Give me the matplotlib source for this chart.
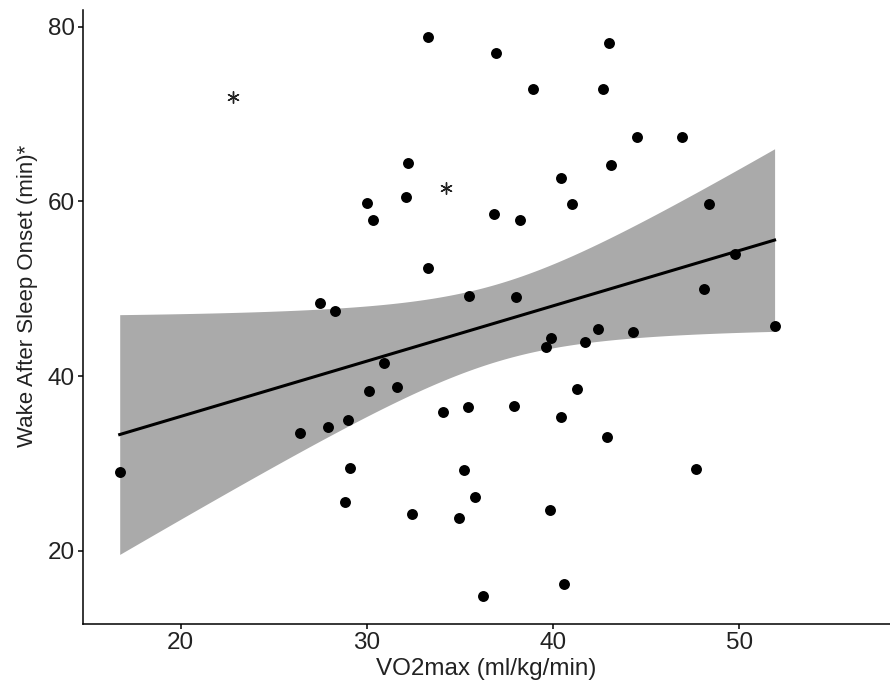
import numpy as np
import matplotlib
matplotlib.use("Agg")
import matplotlib.pyplot as plt

plt.rcParams['font.family'] = ['Liberation Sans', 'DejaVu Sans']

vo2max = [33.30, 32.20, 30.01, 32.11, 30.32, 33.30, 27.50, 28.31, 36.93, 43.01,
          38.91, 42.69, 44.52, 46.92, 43.11, 40.42, 41.01, 36.82, 38.22, 48.40,
          49.80, 48.10, 35.51, 38.02, 51.90, 42.42, 44.30, 39.90, 41.71, 39.61,
          30.91, 30.10, 31.61, 34.09, 26.41, 27.92, 29.01, 29.10, 16.72, 28.81,
          32.43, 41.30, 35.42, 37.91, 40.42, 42.92, 47.69, 35.21, 35.80, 34.92,
          39.81, 40.60, 36.21]
waso = [78.86, 64.44, 59.86, 60.55, 57.88, 52.43, 48.35, 47.51, 77.03, 78.17,
        72.87, 72.87, 67.38, 67.38, 64.18, 62.65, 59.71, 58.53, 57.88, 59.71,
        54.03, 50.02, 49.22, 49.07, 45.72, 45.37, 45.03, 44.35, 43.92, 43.39,
        41.52, 38.35, 38.74, 35.88, 33.52, 34.16, 35.00, 29.51, 29.02, 25.58,
        24.28, 38.51, 36.52, 36.60, 35.31, 33.02, 29.36, 29.24, 26.22, 23.82,
        24.67, 16.27, 14.86]
star_x = [22.78, 34.26]
star_y = [72.0, 61.5]

x = np.array(vo2max)
y = np.array(waso)
n = len(x)
b1, b0 = np.polyfit(x, y, 1)
resid = y - (b0 + b1 * x)
s = np.sqrt(np.sum(resid ** 2) / (n - 2))
tcrit = 2.0076  # t(0.975, df=51)
xg = np.linspace(x.min(), x.max(), 200)
yg = b0 + b1 * xg
se = s * np.sqrt(1.0 / n + (xg - x.mean()) ** 2 / np.sum((x - x.mean()) ** 2))

fig = plt.figure(figsize=(8.9, 6.94), dpi=100)
ax = fig.add_axes([0.0933, 0.1009, 0.9067, 0.8847])

ax.fill_between(xg, yg - tcrit * se, yg + tcrit * se, color='#aaaaaa', lw=0, zorder=1)
ax.plot(xg, yg, color='black', lw=2.2, zorder=2)
ax.scatter(x, y, s=62, color='black', zorder=3, linewidths=0)
ax.scatter(star_x, star_y, marker=(6, 2, 0), s=70, color='#222222', linewidths=1.0, zorder=3)

ax.set_xlim(14.75, 58.1)
ax.set_ylim(11.65, 81.9)
ax.set_xticks([20, 30, 40, 50])
ax.set_yticks([20, 40, 60, 80])
for side in ['top', 'right']:
    ax.spines[side].set_visible(False)
for side in ['left', 'bottom']:
    ax.spines[side].set_linewidth(1.1)
ax.tick_params(direction='out', length=3.6, width=1.1, labelsize=17.5, colors='black',
               labelcolor='#222222', pad=2.2)
ax.set_xlabel('VO2max (ml/kg/min)', fontsize=17.5, color='#222222', labelpad=3)
ax.set_ylabel('Wake After Sleep Onset (min)*', fontsize=16, color='#222222')
ax.yaxis.set_label_coords(-0.056, 0.534)

fig.savefig('out.png', dpi=100)
